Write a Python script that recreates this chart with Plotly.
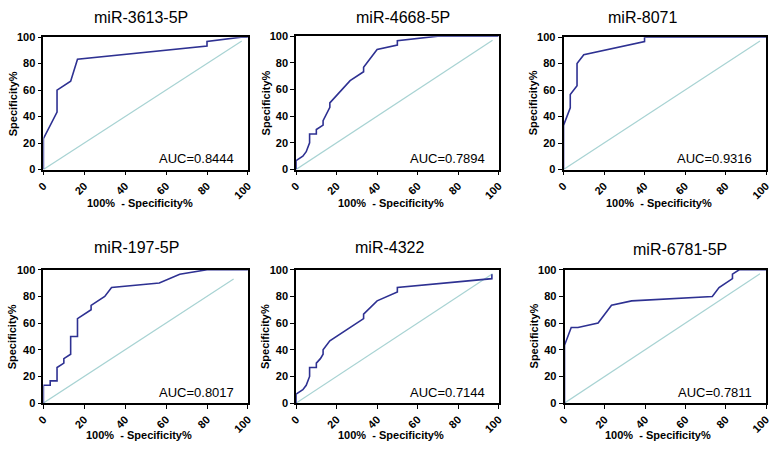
import plotly.graph_objects as go

W, H = 775, 449

titles = ["miR-3613-5P", "miR-4668-5P", "miR-8071",
          "miR-197-5P", "miR-4322", "miR-6781-5P"]
auc_labels = ["AUC=0.8444", "AUC=0.7894", "AUC=0.9316",
              "AUC=0.8017", "AUC=0.7144", "AUC=0.7811"]

# ROC curves: 100% - specificity (x) vs sensitivity (y)
x_3613 = [0, 0, 6.67, 6.67, 13.33, 16.67, 80, 80, 96.67, 100]
y_3613 = [0, 23.33, 43.33, 60, 66.67, 83.33, 93.33, 96.67, 100, 100]

x_4668 = [0, 0, 3.33, 5, 6.67, 6.67, 10, 10, 13.33, 13.33, 16.67, 16.67,
          26.67, 33.33, 33.33, 40, 50, 50, 70, 100]
y_4668 = [0, 6.67, 10, 13.33, 20, 26.67, 26.67, 30, 33.33, 36.67, 46.67, 50,
          66.67, 73.33, 76.67, 90, 93.33, 96.67, 100, 100]

x_8071 = [0, 0, 3.33, 3.33, 6.67, 6.67, 10, 40, 40, 100]
y_8071 = [0, 33.33, 46.67, 56.67, 63.33, 80, 86.67, 96.67, 100, 100]

x_197 = [0, 0, 3.33, 3.33, 6.67, 6.67, 10, 10, 13.33, 13.33, 16.67, 16.67,
         23.33, 23.33, 30, 33.33, 56.67, 66.67, 80, 100]
y_197 = [0, 13.33, 13.33, 16.67, 16.67, 26.67, 30, 33.33, 36.67, 50, 50, 63.33,
         70, 73.33, 80, 86.67, 90, 96.67, 100, 100]

x_4322 = [0, 0, 3.33, 5, 6.67, 6.67, 10, 10, 12, 13.33, 13.33, 16.67,
          33.33, 33.33, 40, 50, 50, 96.67, 96.67]
y_4322 = [0, 6.67, 10, 13.33, 20, 26.67, 26.67, 30, 33.33, 36.67, 40, 46.67,
          63.33, 66.67, 76.67, 83.33, 86.67, 93.33, 96.67]

x_6781 = [0, 0, 3.33, 6.67, 16.67, 23.33, 33.33, 73.33, 76.67, 83.33, 83.33, 86.67, 100]
y_6781 = [0, 43.33, 56.67, 56.67, 60, 73.33, 76.67, 80, 86.67, 93.33, 96.67, 100, 100]

curves_x = [x_3613, x_4668, x_8071, x_197, x_4322, x_6781]
curves_y = [y_3613, y_4668, y_8071, y_197, y_4322, y_6781]

# reference (chance) line end point for each panel
diag_end = [97, 97, 97, 93, 97, 97]

tick_vals = [0, 20, 40, 60, 80, 100]
tick_text = ["0", "20", "40", "60", "80", "100"]

# plot boxes in pixels: left, right, top, bottom
boxes = [(36, 244, 32, 168), (293, 499, 31, 168), (565, 771, 32, 168),
         (36, 244, 271, 408), (293, 499, 271, 408), (566, 771, 271, 408)]
title_pos = [(135, 12), (402, 12), (645, 12), (131, 248), (388, 248), (683, 250)]
xtitle_pos = [(134, 202), (390, 202), (662, 202), (133, 441), (390, 441), (661, 441)]

FONT = "Liberation Sans, Arial, sans-serif"
NAVY = "#2e3192"
DIAG = "#a8d3d3"

fig = go.Figure()
annotations = []

for i in range(6):
    n = "" if i == 0 else str(i + 1)
    l, r, t, b = boxes[i]
    xa = "x" + n
    ya = "y" + n

    fig.add_trace(go.Scatter(x=[0, diag_end[i]], y=[0, diag_end[i]], mode="lines",
                             line=dict(color=DIAG, width=1.2), xaxis=xa, yaxis=ya,
                             showlegend=False, hoverinfo="skip"))
    fig.add_trace(go.Scatter(x=curves_x[i], y=curves_y[i], mode="lines",
                             line=dict(color=NAVY, width=1.6), xaxis=xa, yaxis=ya,
                             showlegend=False))

    axis_common = dict(range=[0, 100], showgrid=False, zeroline=False,
                       showline=True, mirror=True, linecolor="black", linewidth=1.7,
                       ticks="outside", ticklen=4, tickwidth=1.4, tickcolor="black",
                       tickvals=tick_vals, ticktext=tick_text,
                       tickfont=dict(family=FONT, size=11, color="black", weight="bold"))
    fig.layout["xaxis" + n] = dict(axis_common, domain=[l / W, r / W], anchor=ya,
                                   tickangle=-45)
    fig.layout["yaxis" + n] = dict(axis_common, domain=[1 - b / H, 1 - t / H], anchor=xa)

    tx, ty = title_pos[i]
    annotations.append(dict(x=tx / W, y=1 - ty / H, xref="paper", yref="paper",
                            text=titles[i], showarrow=False, xanchor="center",
                            yanchor="middle", font=dict(family=FONT, size=16, color="black")))
    annotations.append(dict(x=(r - 12) / W, y=1 - (b - 11) / H, xref="paper", yref="paper",
                            text=auc_labels[i], showarrow=False, xanchor="right",
                            yanchor="middle", font=dict(family=FONT, size=13, color="black")))
    gx, gy = xtitle_pos[i]
    annotations.append(dict(x=gx / W, y=1 - gy / H, xref="paper", yref="paper",
                            text="100%  - Specificity%", showarrow=False,
                            xanchor="center", yanchor="middle",
                            font=dict(family=FONT, size=11, color="black", weight="bold")))
    annotations.append(dict(x=(l - 31) / W, y=1 - ((t + b) / 2) / H, xref="paper",
                            yref="paper", text="Specificity%", showarrow=False,
                            textangle=-90, xanchor="center", yanchor="middle",
                            font=dict(family=FONT, size=11, color="black", weight="bold")))

fig.update_layout(width=W, height=H, margin=dict(l=0, r=0, t=0, b=0),
                  paper_bgcolor="white", plot_bgcolor="white",
                  annotations=annotations)

# the page's default body margin would push the fixed-size figure off the window
fig.write_html("out.html",
               config={"displayModeBar": False},
               post_script="document.body.style.margin='0';"
                           "document.body.style.overflow='hidden';")
